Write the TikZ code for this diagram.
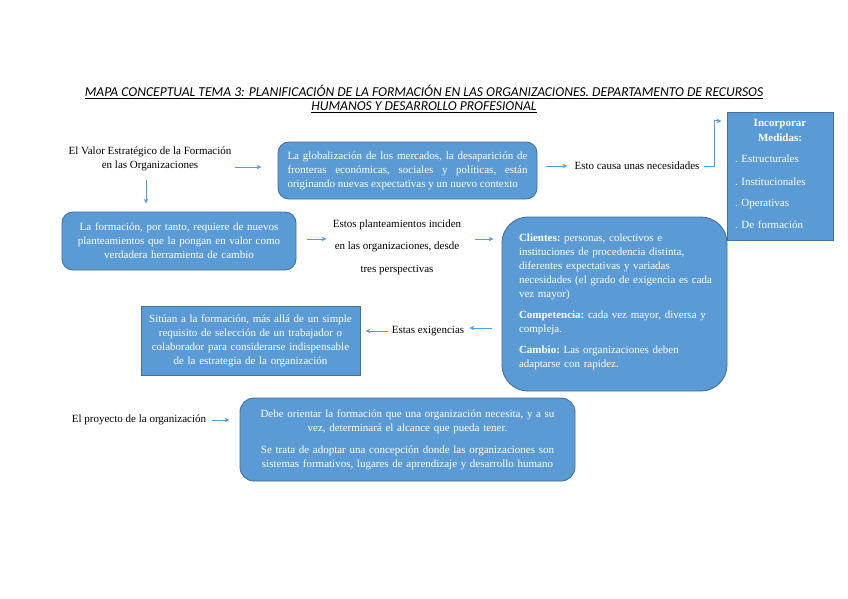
\documentclass[tikz,border=0pt]{standalone}
\usepackage{fontspec}
\setmainfont{Liberation Serif}
\newfontfamily\titlefont{Carlito}
\usetikzlibrary{arrows.meta}
\definecolor{boxfill}{HTML}{5B9BD5}
\definecolor{boxline}{HTML}{41719C}
\definecolor{arrowc}{HTML}{5B9BD5}
\newcommand{\fs}{\fontsize{11}{14}\selectfont\frenchspacing}
\begin{document}
\begin{tikzpicture}[x=1pt,y=-1pt,
  bluebox/.style={draw=boxline, fill=boxfill, line width=0.9pt, text=white, font=\fs, inner sep=0pt},
  roundbox/.style={bluebox, rounded corners=11pt},
  plaintext/.style={font=\fs, inner sep=0pt, align=center},
  arr/.style={draw=arrowc, line width=1pt, -{Stealth[length=5pt,width=4.5pt]}}
]
\useasboundingbox (0,0) rectangle (848,599);
\fill[white] (0,0) rectangle (848,599);

% title
\node[inner sep=0pt, align=center, font=\titlefont\itshape\fontsize{13.6}{14}\selectfont] (title) at (424,99)
  {\underline{MAPA CONCEPTUAL TEMA 3: PLANIFICACIÓN DE LA FORMACIÓN EN LAS ORGANIZACIONES. DEPARTAMENTO DE RECURSOS}\\
   \underline{HUMANOS Y DESARROLLO PROFESIONAL}};

% row 1
\node[plaintext] (valor) at (150,159) {El Valor Estratégico de la Formación\\en las Organizaciones};
\node[roundbox, minimum width=259pt, minimum height=57pt, text width=240pt, align=justify] (glob) at (407.5,170.5)
  {La globalización de los mercados, la desaparición de\linebreak fronteras económicas, sociales y políticas, están\linebreak originando nuevas expectativas y un nuevo contexto};
\node[plaintext] (esto) at (637,166) {Esto causa unas necesidades};
\node[bluebox, rounded corners=0pt, minimum width=106pt, minimum height=128pt, text width=94pt, align=left] (incorp) at (780,176)
  {\makebox[94pt]{\bfseries Incorporar}\\[1pt]
   \makebox[94pt]{\bfseries Medidas:}\\[7pt]
   \hspace*{2pt}. Estructurales\\[9pt]
   \hspace*{2pt}. Institucionales\\[7pt]
   \hspace*{2pt}. Operativas\\[8pt]
   \hspace*{2pt}. De formación\\[-10pt]\mbox{}};

% row 2
\node[roundbox, minimum width=234pt, minimum height=58pt, text width=225pt, align=center] (form) at (179,241)
  {La formación, por tanto, requiere de nuevos\\planteamientos que la pongan en valor como\\verdadera herramienta de cambio};
\node[plaintext, font=\fontsize{11}{22.5}\selectfont] (estos) at (397,247)
  {Estos planteamientos inciden\\en las organizaciones, desde\\tres perspectivas};
\node[roundbox, rounded corners=26pt, minimum width=225pt, minimum height=174pt, text width=191pt, align=left] (clientes) at (614.5,304)
  {\textbf{Clientes:} personas, colectivos e\\
   instituciones de procedencia distinta,\\
   diferentes expectativas y variadas\\
   \mbox{necesidades (el grado de exigencia es cada}\\
   vez mayor)\\[7pt]
   \textbf{Competencia:} cada vez mayor, diversa y\\
   compleja.\\[7pt]
   \textbf{Cambio:} Las organizaciones deben\\
   adaptarse con rapidez.\\[-8pt]\mbox{}};

% row 3
\node[bluebox, minimum width=219pt, minimum height=69pt, text width=210pt, align=center] (situan) at (250.5,340.5)
  {Sitúan a la formación, más allá de un simple\\requisito de selección de un trabajador o\\colaborador para considerarse indispensable\\de la estrategia de la organización};
\node[plaintext] (exig) at (428,331) {Estas exigencias};

% row 4
\node[plaintext] (proy) at (139,420) {El proyecto de la organización};
\node[roundbox, rounded corners=14pt, minimum width=335pt, minimum height=83pt, text width=320pt, align=center] (debe) at (407.5,439.5)
  {Debe orientar la formación que una organización necesita, y a su\\vez, determinará el alcance que pueda tener.\\[8pt]
   Se trata de adoptar una concepción donde las organizaciones son\\sistemas formativos, lugares de aprendizaje y desarrollo humano};

% connectors
\draw[arr, shorten <=3pt, shorten >=16pt] ([yshift=3.5pt]valor.east |- glob.west) -- ([yshift=3.5pt]glob.west);
\draw[arr, shorten <=9pt, shorten >=8pt] ([xshift=-4pt]valor.south) -- ([xshift=-4pt]valor.south |- form.north);
\draw[arr, shorten <=9pt, shorten >=7pt] (glob.east |- esto.west) -- (esto.west);
\draw[arr, shorten >=5pt] ([xshift=4pt]esto.east) -- ++(11,0) |- ([yshift=55pt]incorp.west);
\draw[arr, shorten <=11pt, shorten >=6pt] ([yshift=2pt]form.east) -- ([yshift=2pt]form.east -| estos.west);
\draw[arr, shorten <=14pt, shorten >=8pt] ([yshift=2pt]form.east -| estos.east) -- ([yshift=2pt]form.east -| clientes.west);
\draw[arr, shorten <=10pt, shorten >=5pt] ([yshift=3pt]clientes.west |- exig.east) -- ([yshift=3pt]exig.east);
\draw[arr, shorten <=4pt, shorten >=5pt] (exig.west) -- (exig.west -| situan.east);
\draw[arr, shorten <=6pt, shorten >=10pt] (proy.east) -- (proy.east -| debe.west);
\end{tikzpicture}
\end{document}
